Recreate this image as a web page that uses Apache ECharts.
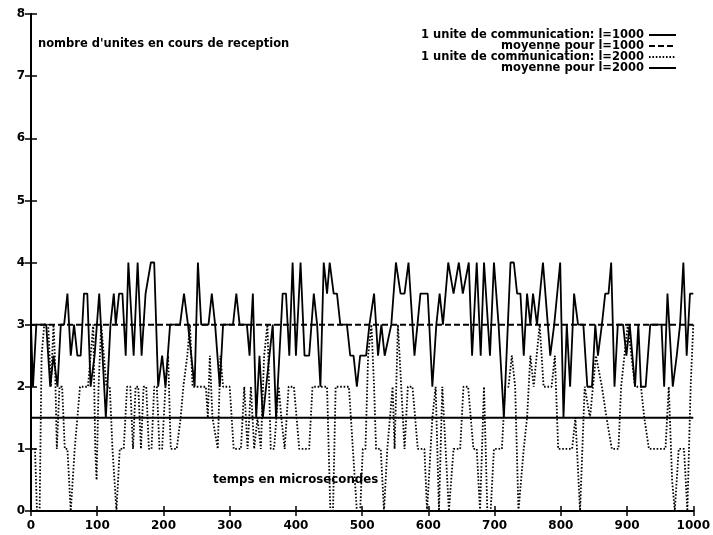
<!DOCTYPE html>
<html>
<head>
<meta charset="utf-8">
<script src="https://cdn.jsdelivr.net/npm/echarts@6/dist/echarts.min.js"></script>
<style>
  html, body { margin: 0; padding: 0; background: #fff; }
  #chart { width: 713px; height: 535px; }
</style>
</head>
<body>
<div id="chart"></div>
<script>
// Axis ranges and ticks
const xTicks = [0, 100, 200, 300, 400, 500, 600, 700, 800, 900, 1000];
const yTicks = [0, 1, 2, 3, 4, 5, 6, 7, 8];

// Series names (legend)
const seriesNames = [
  '1 unite de communication: l=1000',
  'moyenne pour l=1000',
  '1 unite de communication: l=2000',
  'moyenne pour l=2000'
];

// l=1000 : time (microseconds) and number of units being received
const temps1000 = [0,3,8,23,29,34,40,45,50,55,60,65,70,75,80,85,90,96,103,113,120,125,128,133,138,143,147,155,161,167,173,181,186,192,198,203,210,225,231,237,247,252,257,268,273,278,285,290,305,310,315,326,330,335,340,345,350,355,360,365,370,375,380,385,390,395,400,407,413,420,427,432,437,442,447,451,457,462,467,477,482,487,492,497,506,511,518,524,529,534,544,551,558,564,570,579,588,599,606,612,617,622,630,638,646,652,661,666,673,679,684,693,699,706,714,720,724,729,734,739,744,749,754,758,764,773,784,790,799,804,809,814,820,826,834,840,847,852,856,862,867,872,876,881,886,894,899,904,908,912,917,921,928,935,952,956,961,969,975,980,985,990,995,1000];
const unites1000 = [3,2,3,3,2,2.5,2,3,3,3.5,2.5,3,2.5,2.5,3.5,3.5,2,2.5,3.5,1.5,3,3.5,3,3.5,3.5,2.5,4,2.5,4,2.5,3.5,4,4,2,2.5,2,3,3,3.5,3,2,4,3,3,3.5,3,2,3,3,3.5,3,3,2.5,3.5,1.5,2.5,1.5,2,2.5,3,1.5,2.5,3.5,3.5,2.5,4,2.5,4,2.5,2.5,3.5,3,2,4,3.5,4,3.5,3.5,3,3,2.5,2.5,2,2.5,2.5,3,3.5,2.5,3,2.5,3,4,3.5,3.5,4,2.5,3.5,3.5,2,3,3.5,3,4,3.5,4,3.5,4,2.5,4,2.5,4,2.5,4,3,1.5,3,4,4,3.5,3.5,2.5,3.5,3,3.5,3,4,2.5,3,4,1.5,3,2,3.5,3,3,2,2,3,2.5,3,3.5,3.5,4,2,3,3,2.5,3,2.5,2,3,2,2,3,3,2,3.5,2,2.5,3,4,2.5,3.5,3.5];
const moyenne1000 = 3;

// l=2000 : time (microseconds) and number of units being received
const temps2000 = [0,6,9,13,16,20,26,30,34,36,39,43,47,51,55,60,63,66,70,74,86,90,94,97,99,102,106,110,114,119,123,126,129,132,134,140,145,150,154,158,162,166,170,174,178,182,186,190,194,198,203,207,211,220,226,230,236,240,244,250,258,264,267,270,274,282,286,290,300,306,317,322,327,332,337,342,347,352,357,362,367,374,378,383,389,397,405,420,425,437,447,452,456,460,470,480,486,492,497,501,505,509,514,518,521,528,533,538,546,549,554,559,564,569,576,584,594,598,606,611,616,621,626,631,638,648,653,660,668,673,678,684,689,694,699,711,716,721,726,731,736,744,749,754,759,768,774,786,791,796,817,822,829,836,844,853,862,869,877,887,891,896,901,912,921,926,933,958,963,968,972,978,986,991,996,1000];
const unites2000 = [1,1,0,0,2.5,3,3,2,3,2.5,1,2,2,1,1,0,0.5,1,1.5,2,2,2.5,3,1,0.5,2,3,2.5,2,2,1,1,0,0,1,1,2,2,1,2,2,1,2,2,1,1,2,2,1,1,2,2.5,1,1,1.5,2,2.5,3,2,2,2,2,1.5,2.5,1.5,1,2.5,2,2,1,1,2,1,2,1,1.5,1,2.5,3,1,1,2,1.5,1,2,2,1,1,2,2,2,0,0,2,2,2,1,0,0,1,1,2.5,3,2,1,1,0,1,2,1,3,2,1,2,2,1,1,0,1.5,2,0,2,1,0,1,1,2,2,1,1,0,2,0,0,1,1,2,2,2.5,2,0,1,1.5,2.5,2,3,2,2,2.5,1,1,1.5,0,2,1.5,2.5,2,1.5,1,1,2,2.5,3,2,2,1.5,1,1,2,0.5,0,1,1,0,2,3];
const moyenne2000 = 1.5;

const ink = '#000';
const font = '"DejaVu Sans", Verdana, sans-serif';

const zip = (xs, ys) => xs.map((x, i) => [x, ys[i]]);

// One legend block per row so that every entry is right-aligned
const legendRows = [29, 40, 51, 62];
const legends = seriesNames.map((name, i) => ({
  data: [name],
  right: 36,
  top: legendRows[i],
  align: 'right',
  itemWidth: 27,
  itemHeight: 10,
  padding: 0,
  selectedMode: false,
  itemStyle: { color: 'transparent', borderWidth: 0, opacity: 0 },
  textStyle: { color: ink, fontFamily: font, fontWeight: 'bold', fontSize: 11.5 }
}));

const chart = echarts.init(document.getElementById('chart'), null, { renderer: 'canvas' });
const baseAxisX = {
  type: 'value', min: xTicks[0], max: xTicks[xTicks.length - 1],
  interval: xTicks[1] - xTicks[0],
  splitLine: { show: false }
};
const baseAxisY = {
  type: 'value', min: yTicks[0], max: yTicks[yTicks.length - 1],
  interval: yTicks[1] - yTicks[0],
  splitLine: { show: false }
};
const tickLabel = {
  color: ink, fontFamily: font, fontWeight: 'bold', fontSize: 12, margin: 6,
  formatter: v => String(v)
};
chart.setOption({
  animation: false,
  backgroundColor: '#fff',
  color: [ink, ink, ink, ink],
  grid: { left: 31, right: 18, top: 14, bottom: 24, containLabel: false },
  legend: legends,
  xAxis: [
    Object.assign({}, baseAxisX, {
      position: 'bottom',
      axisLine: { lineStyle: { color: ink, width: 2 } },
      axisTick: { inside: true, length: 5, lineStyle: { color: ink, width: 1.5 } },
      axisLabel: Object.assign({}, tickLabel, { margin: 9 })
    }),
    Object.assign({}, baseAxisX, {
      position: 'top',
      axisLine: { lineStyle: { color: ink, width: 2 } },
      axisTick: { inside: true, length: 5, lineStyle: { color: ink, width: 1.5 } },
      axisLabel: { show: false }
    })
  ],
  yAxis: [
    Object.assign({}, baseAxisY, {
      position: 'left',
      axisLine: { show: true, lineStyle: { color: ink, width: 2 } },
      axisTick: { show: true, inside: true, length: 6, lineStyle: { color: ink, width: 1.5 } },
      axisLabel: tickLabel
    }),
    Object.assign({}, baseAxisY, {
      position: 'right',
      axisLine: { show: true, lineStyle: { color: ink, width: 2 } },
      axisTick: { show: true, inside: true, length: 6, lineStyle: { color: ink, width: 1.5 } },
      axisLabel: { show: false }
    })
  ],
  graphic: [
    {
      type: 'text', left: 38, top: 38,
      style: { text: "nombre d'unites en cours de reception", fill: ink, font: 'bold 11.5px ' + font }
    },
    {
      type: 'text', left: 213, top: 474,
      style: { text: 'temps en microsecondes', fill: ink, font: 'bold 11.8px ' + font }
    }
  ],
  series: [
    {
      name: seriesNames[0], type: 'line', symbol: 'none', z: 4,
      data: zip(temps1000, unites1000),
      itemStyle: { color: ink },
      lineStyle: { color: ink, width: 1.8, type: 'solid' }
    },
    {
      name: seriesNames[1], type: 'line', symbol: 'none', z: 3,
      data: [[xTicks[0], moyenne1000], [xTicks[xTicks.length - 1], moyenne1000]],
      itemStyle: { color: ink },
      lineStyle: { color: ink, width: 2, type: [6, 3] }
    },
    {
      name: seriesNames[2], type: 'line', symbol: 'none', z: 2,
      data: zip(temps2000, unites2000),
      itemStyle: { color: ink },
      lineStyle: { color: ink, width: 1.8, type: [1.6, 1.8] }
    },
    {
      name: seriesNames[3], type: 'line', symbol: 'none', z: 3,
      data: [[xTicks[0], moyenne2000], [xTicks[xTicks.length - 1], moyenne2000]],
      itemStyle: { color: ink },
      lineStyle: { color: ink, width: 2, type: 'solid' }
    }
  ]
});
</script>
</body>
</html>
